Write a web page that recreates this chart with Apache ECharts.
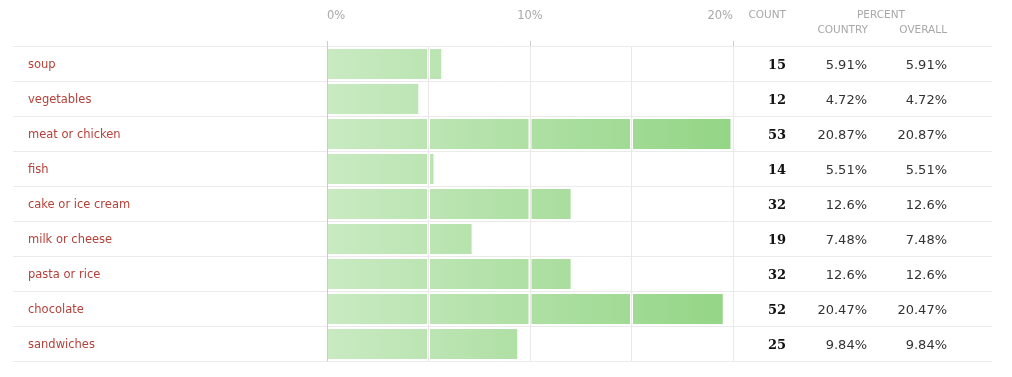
<!DOCTYPE html>
<html>
<head>
<meta charset="utf-8">
<script src="https://cdn.jsdelivr.net/npm/echarts@6/dist/echarts.min.js"></script>
<style>
html,body{margin:0;padding:0;background:#fff;}
#chart{width:1012px;height:377px;}
</style>
</head>
<body>
<div id="chart"></div>
<script>
const categories = ['soup','vegetables','meat or chicken','fish','cake or ice cream','milk or cheese','pasta or rice','chocolate','sandwiches'];
const counts = [15,12,53,14,32,19,32,52,25];
const pctCountry = [5.91,4.72,20.87,5.51,12.6,7.48,12.6,20.47,9.84];
const pctOverall = [5.91,4.72,20.87,5.51,12.6,7.48,12.6,20.47,9.84];
const tickLabels = ['0%','10%','20%'];

const AXIS_MAX = 21;
const SEG = AXIS_MAX / 4;
const GRID_TOP = 46, GRID_H = 315;
const LABEL_FONT = 'DejaVu Sans';

const chart = echarts.init(document.getElementById('chart'), null, {renderer:'canvas'});

function renderBar(params, api) {
  const val = api.value(0);
  const idx = api.value(1);
  const yc = api.coord([0, idx])[1];
  const gx0 = api.coord([0, idx])[0];
  const gx1 = api.coord([AXIS_MAX, idx])[0];
  const fill = {
    type:'linear', x: gx0, y: 0, x2: gx1, y2: 0, global: true,
    colorStops:[{offset:0,color:'#c9eac2'},{offset:1,color:'#93d585'}]
  };
  const children = [];
  for (let k = 0; k < 4; k++) {
    const s = k * SEG;
    if (val <= s) break;
    const e = Math.min(val, (k + 1) * SEG);
    let xs = api.coord([s, idx])[0] + (k === 0 ? 1 : 1.5);
    let xe = api.coord([e, idx])[0];
    if (val > e) xe -= 1.5;
    children.push({
      type:'rect',
      shape:{x: xs, y: yc - 14.5, width: Math.max(0, xe - xs), height: 30},
      style:{fill: fill}
    });
  }
  return {type:'group', children: children};
}

const catAxisBase = {
  type:'category', data: categories, inverse:true,
  axisLine:{show:false}, axisTick:{show:false}, splitLine:{show:false}
};
const HEAD = {fill:'#a8a8a8', fontFamily:LABEL_FONT, fontSize:10.5};

function shifted(style, dy) {
  return Object.assign({verticalAlign:'top', padding:[0,0,0,0]}, style, {
    rich:{ t:{ fontFamily: style.fontFamily, fontSize: style.fontSize, fontWeight: style.fontWeight || 'normal', color: style.color, padding:[dy,0,0,0] } }
  });
}

chart.setOption({
  animation:false,
  backgroundColor:'#fff',
  grid:[
    {left:13, right:20, top:GRID_TOP, height:GRID_H},
    {left:327, right:1012-733, top:GRID_TOP, height:GRID_H}
  ],
  xAxis:[
    {gridIndex:0, type:'value', show:false, min:0, max:1},
    {gridIndex:1, type:'value', position:'top', min:0, max:AXIS_MAX, interval:AXIS_MAX/2,
      axisLine:{show:false},
      axisTick:{show:true, length:5, lineStyle:{color:'#cccccc'}},
      splitLine:{show:false},
      axisLabel:{
        margin:24, color:'#a8a8a8', fontFamily:LABEL_FONT, fontSize:11.5,
        alignMinLabel:'left', alignMaxLabel:'right',
        formatter:function(v, i){ return tickLabels[i] || ''; }
      }
    },
    {gridIndex:1, type:'value', position:'top', min:0, max:AXIS_MAX, interval:SEG,
      axisLine:{show:false}, axisTick:{show:false}, axisLabel:{show:false},
      splitLine:{show:true, lineStyle:{color:'#ece7ea', width:1}}
    }
  ],
  yAxis:[
    Object.assign({}, catAxisBase, {gridIndex:0, position:'left',
      splitLine:{show:true, lineStyle:{color:'#ebebeb', width:1}},
      axisLabel:{align:'left', margin:-15, color:'#b4413a', fontFamily:LABEL_FONT, fontSize:11.5,
        formatter:function(v){ return '{t|' + v + '}'; },
        rich:{t:{color:'#b4413a', fontFamily:LABEL_FONT, fontSize:11.5, padding:[4,0,0,0]}}}
    }),
    Object.assign({}, catAxisBase, {gridIndex:0, position:'right',
      axisLabel:{align:'right', margin:-(992-786),
        formatter:function(v, i){ return '{t|' + counts[i] + '}'; },
        rich:{t:{color:'#111', fontFamily:'DejaVu Serif', fontWeight:'bold', fontSize:13, padding:[5,0,0,0]}}}
    }),
    Object.assign({}, catAxisBase, {gridIndex:0, position:'right',
      axisLabel:{align:'right', margin:-(992-867),
        formatter:function(v, i){ return '{t|' + pctCountry[i] + '%}'; },
        rich:{t:{color:'#333', fontFamily:LABEL_FONT, fontSize:13, padding:[4,0,0,0]}}}
    }),
    Object.assign({}, catAxisBase, {gridIndex:0, position:'right',
      axisLabel:{align:'right', margin:-(992-947),
        formatter:function(v, i){ return '{t|' + pctOverall[i] + '%}'; },
        rich:{t:{color:'#333', fontFamily:LABEL_FONT, fontSize:13, padding:[4,0,0,0]}}}
    }),
    Object.assign({}, catAxisBase, {gridIndex:1, position:'left',
      axisLine:{show:true, lineStyle:{color:'#cccccc', width:1}},
      axisLabel:{show:false}
    })
  ],
  graphic:[
    {type:'text', x:786, y:15, style:Object.assign({text:'COUNT', align:'right', verticalAlign:'middle'}, HEAD)},
    {type:'text', x:881, y:15, style:Object.assign({text:'PERCENT', align:'center', verticalAlign:'middle'}, HEAD)},
    {type:'text', x:868, y:30, style:Object.assign({text:'COUNTRY', align:'right', verticalAlign:'middle'}, HEAD)},
    {type:'text', x:947, y:30, style:Object.assign({text:'OVERALL', align:'right', verticalAlign:'middle'}, HEAD)}
  ],
  series:[
    {
      type:'custom', xAxisIndex:2, yAxisIndex:4,
      renderItem: renderBar,
      encode:{x:0, y:1},
      data: pctCountry.map(function(v, i){ return [v, categories[i]]; }),
      silent:true
    }
  ]
});
</script>
</body>
</html>
